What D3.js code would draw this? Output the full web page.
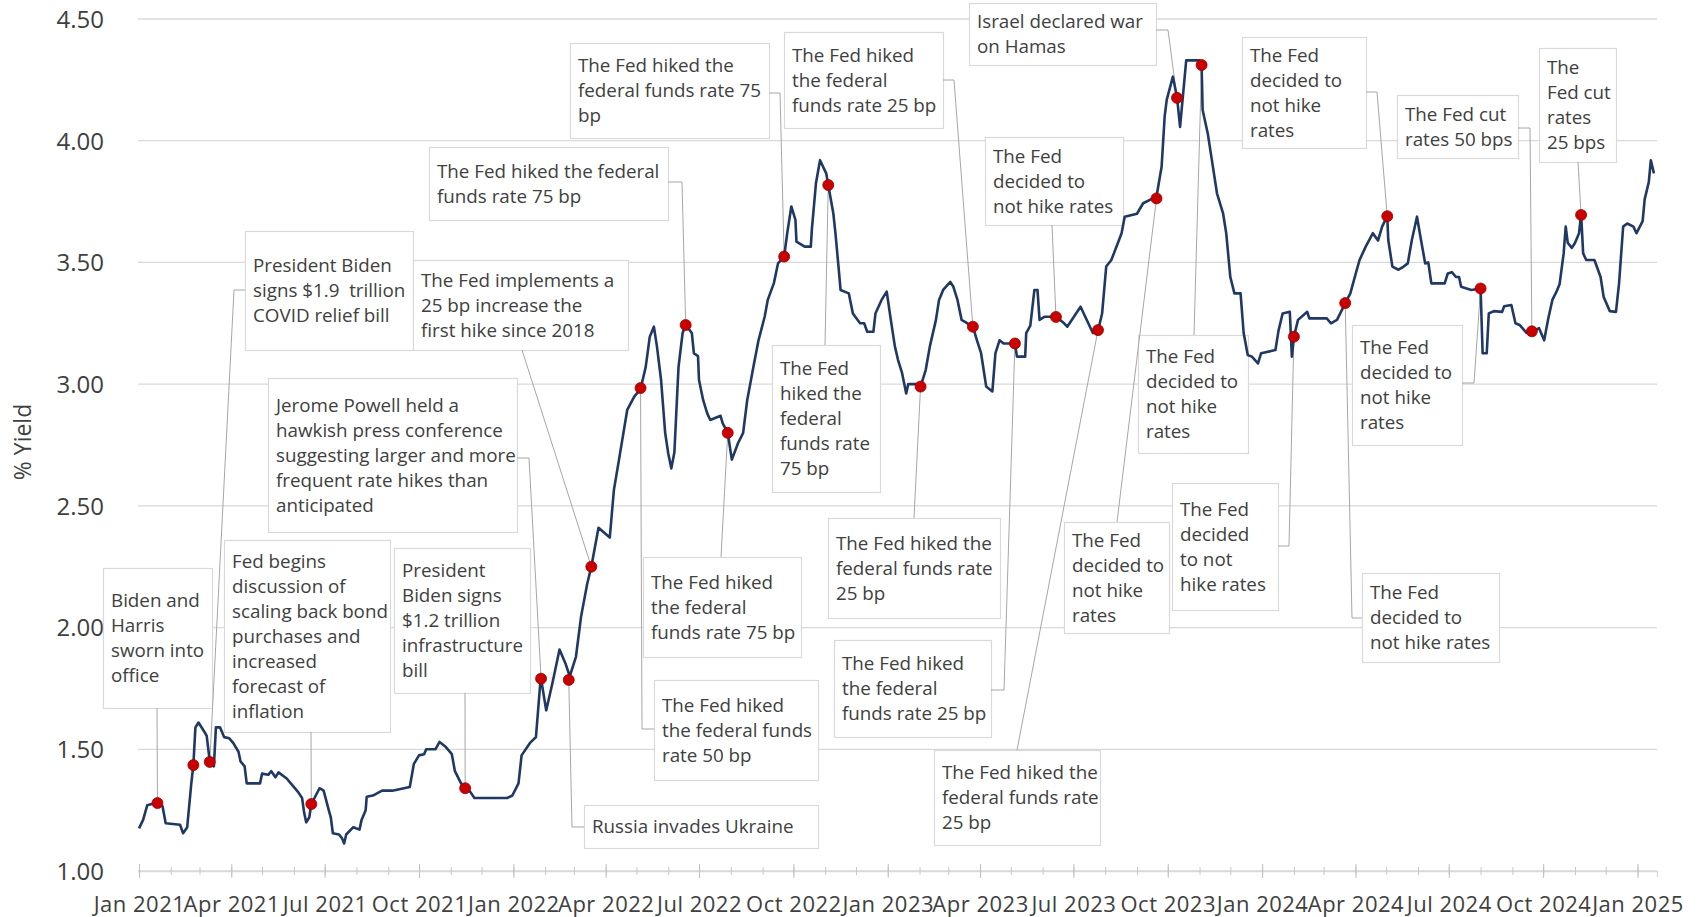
<!DOCTYPE html>
<html>
<head>
<meta charset="utf-8">
<script src="https://cdn.jsdelivr.net/npm/d3@7"></script>
<style>
  html, body { margin: 0; padding: 0; background: #ffffff; }
  svg { display: block; font-family: "Open Sans", "Noto Sans", sans-serif; }
</style>
</head>
<body>
<svg id="chart" width="1704" height="917"></svg>
<script>
// ---------------------------------------------------------------
// Yield series (% yield), Jan 2021 - Jan 2025
// ---------------------------------------------------------------
const seriesDates = [
  "2021-01-01","2021-01-05","2021-01-09","2021-01-18","2021-01-24","2021-01-27","2021-02-10","2021-02-13",
  "2021-02-17","2021-02-21","2021-02-23","2021-02-25","2021-02-28","2021-03-06","2021-03-08","2021-03-11",
  "2021-03-15","2021-03-17","2021-03-21","2021-03-25","2021-03-30","2021-04-03","2021-04-08","2021-04-10",
  "2021-04-14","2021-04-16","2021-04-29","2021-05-01","2021-05-07","2021-05-10","2021-05-14","2021-05-17",
  "2021-05-25","2021-05-29","2021-06-05","2021-06-09","2021-06-11","2021-06-13","2021-06-16","2021-06-18",
  "2021-06-26","2021-06-30","2021-07-05","2021-07-07","2021-07-09","2021-07-15","2021-07-18","2021-07-20",
  "2021-07-22","2021-07-29","2021-08-04","2021-08-06","2021-08-10","2021-08-11","2021-08-17","2021-08-26",
  "2021-09-05","2021-09-22","2021-09-26","2021-10-01","2021-10-06","2021-10-08","2021-10-17","2021-10-21",
  "2021-10-27","2021-11-02","2021-11-05","2021-11-11","2021-11-15","2021-11-20","2021-11-24","2021-12-26",
  "2021-12-31","2022-01-06","2022-01-09","2022-01-17","2022-01-23","2022-01-27","2022-01-28","2022-02-02",
  "2022-02-08","2022-02-15","2022-02-21","2022-02-25","2022-03-03","2022-03-08","2022-03-14","2022-03-18",
  "2022-03-25","2022-04-05","2022-04-09","2022-04-14","2022-04-22","2022-04-29","2022-05-05","2022-05-10",
  "2022-05-14","2022-05-18","2022-05-21","2022-05-25","2022-05-29","2022-06-01","2022-06-04","2022-06-07",
  "2022-06-11","2022-06-15","2022-06-18","2022-06-24","2022-06-26","2022-06-30","2022-07-01","2022-07-05",
  "2022-07-09","2022-07-12","2022-07-22","2022-07-24","2022-07-29","2022-08-02","2022-08-08","2022-08-13",
  "2022-08-17","2022-08-23","2022-08-28","2022-09-03","2022-09-06","2022-09-12","2022-09-16","2022-09-22",
  "2022-09-25","2022-09-29","2022-10-03","2022-10-04","2022-10-12","2022-10-18","2022-10-19","2022-10-23",
  "2022-10-27","2022-11-02","2022-11-04","2022-11-09","2022-11-11","2022-11-14","2022-11-16","2022-11-24",
  "2022-11-28","2022-12-05","2022-12-09","2022-12-12","2022-12-18","2022-12-20","2022-12-26","2022-12-31",
  "2023-01-04","2023-01-08","2023-01-11","2023-01-15","2023-01-19","2023-01-21","2023-01-30","2023-02-02",
  "2023-02-07","2023-02-11","2023-02-17","2023-02-20","2023-02-24","2023-03-03","2023-03-06","2023-03-10",
  "2023-03-14","2023-03-25","2023-03-29","2023-04-02","2023-04-05","2023-04-07","2023-04-13","2023-04-16",
  "2023-04-20","2023-04-24","2023-05-05","2023-05-07","2023-05-15","2023-05-16","2023-05-20","2023-05-24",
  "2023-05-27","2023-05-29","2023-06-03","2023-06-14","2023-06-22","2023-06-25","2023-07-08","2023-07-20",
  "2023-07-25","2023-07-29","2023-08-02","2023-08-07","2023-08-17","2023-08-20","2023-09-01","2023-09-07",
  "2023-09-20","2023-09-25","2023-09-28","2023-09-30","2023-10-06","2023-10-10","2023-10-13","2023-10-19",
  "2023-11-01","2023-11-03","2023-11-04","2023-11-09","2023-11-12","2023-11-18","2023-11-24","2023-11-27",
  "2023-12-01","2023-12-05","2023-12-11","2023-12-14","2023-12-18","2023-12-22","2023-12-28","2023-12-31",
  "2024-01-14","2024-01-17","2024-01-21","2024-01-28","2024-01-30","2024-02-01","2024-02-05","2024-02-14",
  "2024-02-16","2024-03-04","2024-03-08","2024-03-14","2024-03-22","2024-03-27","2024-04-01","2024-04-05",
  "2024-04-11","2024-04-18","2024-04-23","2024-04-27","2024-05-02","2024-05-03","2024-05-07","2024-05-13",
  "2024-05-18","2024-05-22","2024-05-26","2024-05-31","2024-06-04","2024-06-08","2024-06-11","2024-06-14",
  "2024-06-27","2024-06-30","2024-07-04","2024-07-08","2024-07-11","2024-07-13","2024-07-23","2024-08-01",
  "2024-08-03","2024-08-07","2024-08-09","2024-08-14","2024-08-22","2024-08-24","2024-08-31","2024-09-04",
  "2024-09-08","2024-09-15","2024-09-20","2024-09-27","2024-10-02","2024-10-06","2024-10-10","2024-10-14",
  "2024-10-17","2024-10-21","2024-10-23","2024-10-25","2024-10-29","2024-11-01","2024-11-05","2024-11-07",
  "2024-11-09","2024-11-12","2024-11-20","2024-11-26","2024-11-29","2024-12-05","2024-12-11","2024-12-14",
  "2024-12-18","2024-12-22","2024-12-28","2024-12-31","2025-01-06","2025-01-08","2025-01-12","2025-01-14",
  "2025-01-17"
];

const seriesYields = [
  1.175,1.21,1.27,1.28,1.265,1.196,1.19,1.155,
  1.18,1.36,1.435,1.59,1.61,1.57,1.555,1.45,
  1.43,1.59,1.59,1.55,1.545,1.525,1.49,1.45,
  1.43,1.36,1.36,1.40,1.395,1.41,1.385,1.405,
  1.38,1.36,1.325,1.30,1.24,1.20,1.22,1.275,
  1.34,1.33,1.25,1.22,1.155,1.15,1.134,1.113,
  1.15,1.18,1.17,1.21,1.25,1.305,1.31,1.33,
  1.33,1.345,1.44,1.475,1.48,1.50,1.50,1.53,
  1.51,1.48,1.41,1.36,1.34,1.325,1.30,1.30,
  1.31,1.36,1.475,1.525,1.55,1.76,1.79,1.66,
  1.77,1.91,1.85,1.80,1.88,2.045,2.18,2.25,
  2.41,2.37,2.565,2.69,2.894,2.95,2.98,3.07,
  3.195,3.236,3.154,3.017,2.80,2.715,2.654,2.72,
  3.07,3.21,3.243,3.21,3.127,3.115,3.017,2.935,
  2.88,2.853,2.87,2.84,2.80,2.69,2.757,2.80,
  2.935,3.07,3.18,3.277,3.346,3.415,3.496,3.524,
  3.62,3.73,3.675,3.585,3.565,3.565,3.635,3.825,
  3.92,3.866,3.818,3.70,3.62,3.483,3.387,3.373,
  3.29,3.25,3.25,3.215,3.215,3.29,3.346,3.38,
  3.264,3.154,3.10,3.045,2.962,3.00,3.00,2.99,
  3.058,3.154,3.264,3.346,3.387,3.42,3.40,3.346,
  3.264,3.236,3.18,3.127,3.045,2.99,2.97,3.127,
  3.18,3.167,3.167,3.113,3.113,3.21,3.24,3.387,
  3.387,3.264,3.277,3.277,3.25,3.236,3.318,3.21,
  3.22,3.29,3.483,3.51,3.62,3.688,3.70,3.743,
  3.77,3.893,4.10,4.168,4.263,4.18,4.057,4.33,
  4.33,4.311,4.126,4.03,3.948,3.784,3.70,3.62,
  3.44,3.373,3.373,3.21,3.12,3.113,3.085,3.127,
  3.14,3.22,3.29,3.297,3.113,3.195,3.264,3.297,
  3.27,3.27,3.25,3.264,3.332,3.373,3.45,3.51,
  3.565,3.62,3.59,3.647,3.69,3.592,3.483,3.47,
  3.483,3.496,3.592,3.688,3.59,3.496,3.50,3.414,
  3.414,3.455,3.46,3.44,3.44,3.40,3.387,3.393,
  3.127,3.127,3.29,3.30,3.297,3.32,3.325,3.25,
  3.243,3.21,3.215,3.23,3.18,3.27,3.346,3.38,
  3.41,3.537,3.647,3.58,3.56,3.58,3.62,3.70,
  3.537,3.51,3.51,3.44,3.358,3.30,3.297,3.414,
  3.647,3.66,3.647,3.62,3.67,3.76,3.83,3.92,
  3.866
];

// ---------------------------------------------------------------
// Marked events: date, yield at the marker, callout text
// ---------------------------------------------------------------
const eventDates = [
  "2021-01-19","2021-02-23","2021-03-11","2021-06-18","2021-11-15","2022-01-28","2022-02-24",
  "2022-03-18","2022-05-05","2022-06-18","2022-07-29","2022-09-22","2022-11-04","2023-02-02",
  "2023-03-25","2023-05-05","2023-06-14","2023-07-25","2023-09-20","2023-10-10","2023-11-03",
  "2024-02-01","2024-03-22","2024-05-02","2024-08-01","2024-09-20","2024-11-07"
];

const eventYields = [
  1.279,1.435,1.448,1.275,1.34,1.79,1.785,
  2.25,2.984,3.243,2.80,3.524,3.818,2.99,
  3.236,3.167,3.276,3.222,3.763,4.176,4.311,
  3.195,3.333,3.69,3.393,3.217,3.695
];

const eventLabels = [
  "Biden and\nHarris\nsworn into\noffice",
  "",
  "President Biden\nsigns $1.9  trillion\nCOVID relief bill",
  "Fed begins\ndiscussion of\nscaling back bond\npurchases and\nincreased\nforecast of\ninflation",
  "President\nBiden signs\n$1.2 trillion\ninfrastructure\nbill",
  "Jerome Powell held a\nhawkish press conference\nsuggesting larger and more\nfrequent rate hikes than\nanticipated",
  "Russia invades Ukraine",
  "The Fed implements a\n25 bp increase the\nfirst hike since 2018",
  "The Fed hiked\nthe federal funds\nrate 50 bp",
  "The Fed hiked the federal\nfunds rate 75 bp",
  "The Fed hiked\nthe federal\nfunds rate 75 bp",
  "The Fed hiked the\nfederal funds rate 75\nbp",
  "The Fed\nhiked the\nfederal\nfunds rate\n75 bp",
  "The Fed hiked the\nfederal funds rate\n25 bp",
  "The Fed hiked\nthe federal\nfunds rate 25 bp",
  "The Fed hiked\nthe federal\nfunds rate 25 bp",
  "The Fed\ndecided to\nnot hike rates",
  "The Fed hiked the\nfederal funds rate\n25 bp",
  "The Fed\ndecided to\nnot hike\nrates",
  "Israel declared war\non Hamas",
  "The Fed\ndecided to\nnot hike\nrates",
  "The Fed\ndecided\nto not\nhike rates",
  "The Fed\ndecided to\nnot hike rates",
  "The Fed\ndecided to\nnot hike\nrates",
  "The Fed\ndecided to\nnot hike\nrates",
  "The Fed cut\nrates 50 bps",
  "The\nFed cut\nrates\n25 bps"
];

// Axis ticks
const yTicks = [1.0, 1.5, 2.0, 2.5, 3.0, 3.5, 4.0, 4.5];
const xTickLabels = [
  "Jan 2021","Apr 2021","Jul 2021","Oct 2021","Jan 2022","Apr 2022","Jul 2022","Oct 2022",
  "Jan 2023","Apr 2023","Jul 2023","Oct 2023","Jan 2024","Apr 2024","Jul 2024","Oct 2024","Jan 2025"
];
const yAxisTitle = "% Yield";

// ---------------------------------------------------------------
// Callout placement (pixels): box [x, y, w, h] and leader route
// side: where the leader leaves the box; at: position along that side;
// elbow: x of the short horizontal run for side leaders
// ---------------------------------------------------------------
const calloutLayout = [
  { box: [103, 568, 109, 140], side: "bottom", at: 157 },
  null,
  { box: [245, 231, 168, 119], side: "left", at: 290, elbow: 234 },
  { box: [224, 540, 166, 192], side: "bottom", at: 311 },
  { box: [394, 548, 136, 145], side: "bottom", at: 465 },
  { box: [268, 378, 249, 154], side: "right", at: 458, elbow: 529 },
  { box: [584, 805, 234, 43], side: "left", at: 827, elbow: 572 },
  { box: [413, 260, 215, 90], side: "bottom", at: 522 },
  { box: [654, 680, 164, 100], side: "left", at: 729, elbow: 642 },
  { box: [429, 147, 239, 73], side: "right", at: 182, elbow: 682 },
  { box: [643, 557, 158, 100], side: "top", at: 721 },
  { box: [570, 43, 199, 95], side: "right", at: 93, elbow: 780 },
  { box: [772, 345, 108, 147], side: "top", at: 825 },
  { box: [828, 518, 172, 100], side: "top", at: 914 },
  { box: [784, 32, 159, 96], side: "right", at: 80, elbow: 954 },
  { box: [834, 640, 157, 97], side: "right", at: 690, elbow: 1004 },
  { box: [985, 137, 138, 88], side: "bottom", at: 1052 },
  { box: [934, 750, 166, 95], side: "top", at: 1017 },
  { box: [1064, 522, 105, 111], side: "top", at: 1117 },
  { box: [969, 3, 187, 62], side: "right", at: 30, elbow: 1168 },
  { box: [1138, 335, 110, 118], side: "top", at: 1194 },
  { box: [1172, 483, 106, 127], side: "right", at: 546, elbow: 1289 },
  { box: [1362, 573, 137, 89], side: "left", at: 618, elbow: 1352 },
  { box: [1242, 37, 124, 111], side: "right", at: 92, elbow: 1377 },
  { box: [1352, 325, 110, 120], side: "right", at: 383, elbow: 1474 },
  { box: [1397, 95, 121, 63], side: "right", at: 128, elbow: 1530 },
  { box: [1539, 48, 77, 114], side: "bottom", at: 1578 }
];

// ---------------------------------------------------------------
// Scales
// ---------------------------------------------------------------
const parseDay = d3.timeParse("%Y-%m-%d");
const parseMonth = d3.timeParse("%b %Y");

const x = d3.scaleTime()
  .domain([parseDay("2021-01-01"), parseDay("2025-01-20")])
  .range([139, 1657]);

const y = d3.scaleLinear()
  .domain([1.0, 4.5])
  .range([871, 19]);

const series = seriesDates.map((d, i) => ({ date: parseDay(d), value: seriesYields[i] }));
const events = eventDates.map((d, i) => ({
  date: parseDay(d), value: eventYields[i], label: eventLabels[i], layout: calloutLayout[i]
}));

const svg = d3.select("#chart");
const TEXT = "#404040";

// ---------------------------------------------------------------
// Gridlines and value labels
// ---------------------------------------------------------------
const [plotLeft, plotRight] = x.range();

svg.append("g")
  .attr("class", "grid")
  .selectAll("line")
  .data(yTicks)
  .join("line")
  .attr("x1", plotLeft - 1)
  .attr("x2", plotRight)
  .attr("y1", d => y(d))
  .attr("y2", d => y(d))
  .attr("stroke", "#d9d9d9")
  .attr("stroke-width", 1.3);

const yAxis = svg.append("g")
  .attr("transform", `translate(${plotLeft - 35},0)`)
  .call(d3.axisLeft(y).tickValues(yTicks).tickFormat(d3.format(".2f")).tickSize(0).tickPadding(0));
yAxis.select(".domain").remove();
yAxis.selectAll("text")
  .attr("fill", TEXT)
  .attr("font-size", 24)
  .attr("font-family", "'Open Sans', sans-serif")
  .attr("dy", "0.35em");

svg.append("text")
  .attr("transform", "translate(31,442) rotate(-90)")
  .attr("text-anchor", "middle")
  .attr("fill", TEXT)
  .attr("font-size", 23)
  .text(yAxisTitle);

// ---------------------------------------------------------------
// Time axis: monthly minor ticks, quarterly labelled ticks
// ---------------------------------------------------------------
const axisY = y(1.0);
const monthTicks = d3.timeMonth.range(x.domain()[0], d3.timeDay.offset(x.domain()[1], 1));
const quarterTicks = xTickLabels.map(parseMonth);

const minorAxis = svg.append("g")
  .attr("transform", `translate(0,${axisY})`)
  .call(d3.axisBottom(x).tickValues(monthTicks).tickFormat(""));
minorAxis.select(".domain").attr("stroke", "#d9d9d9").attr("stroke-width", 1.3);
minorAxis.selectAll(".tick line").attr("y1", -4).attr("y2", 4).attr("stroke", "#c8c8c8");

const majorAxis = svg.append("g")
  .attr("transform", `translate(0,${axisY})`)
  .call(d3.axisBottom(x).tickValues(quarterTicks).tickFormat((d, i) => xTickLabels[i]));
majorAxis.select(".domain").remove();
majorAxis.selectAll(".tick line").attr("y1", -7).attr("y2", 7).attr("stroke", "#bfbfbf");
majorAxis.selectAll(".tick text")
  .attr("y", 41)
  .attr("dy", null)
  .attr("fill", TEXT)
  .attr("font-size", 22)
  .attr("letter-spacing", 0.5)
  .attr("font-family", "'Open Sans', sans-serif");

// ---------------------------------------------------------------
// Callout boxes and leaders
// ---------------------------------------------------------------
const callouts = events.filter(e => e.layout);
const LINE_H = 25, FONT = 18.8, PAD = 8;

const defs = svg.append("defs");
callouts.forEach((e, i) => {
  const [bx, by, bw, bh] = e.layout.box;
  defs.append("clipPath").attr("id", `clip-${i}`)
    .append("rect").attr("x", bx).attr("y", by).attr("width", bw + 2).attr("height", bh);
});

const boxG = svg.append("g").attr("class", "callouts");
callouts.forEach((e, i) => {
  const [bx, by, bw, bh] = e.layout.box;
  const g = boxG.append("g");
  g.append("rect")
    .attr("x", bx + 0.5).attr("y", by + 0.5)
    .attr("width", bw).attr("height", bh)
    .attr("fill", "#ffffff")
    .attr("stroke", "#d9d9d9")
    .attr("stroke-width", 1.2);
  const lines = e.label.split("\n");
  const cy = by + bh / 2;
  const t = g.append("text")
    .attr("clip-path", `url(#clip-${i})`)
    .attr("fill", TEXT)
    .attr("font-size", FONT)
    .style("white-space", "pre");
  lines.forEach((ln, k) => {
    t.append("tspan")
      .attr("x", bx + PAD)
      .attr("y", cy + (k - (lines.length - 1) / 2) * LINE_H + FONT * 0.35)
      .text(ln);
  });
});

const leaderG = svg.append("g").attr("class", "leaders")
  .attr("fill", "none").attr("stroke", "#a6a6a6").attr("stroke-width", 1);
callouts.forEach(e => {
  const L = e.layout;
  const [bx, by, bw, bh] = L.box;
  const px = x(e.date), py = y(e.value);
  let pts;
  if (L.side === "bottom") pts = [[L.at, by + bh], [px, py]];
  else if (L.side === "top") pts = [[L.at, by], [px, py]];
  else if (L.side === "left") pts = [[bx, L.at], [L.elbow, L.at], [px, py]];
  else pts = [[bx + bw, L.at], [L.elbow, L.at], [px, py]];
  leaderG.append("path").attr("d", d3.line()(pts));
});

// ---------------------------------------------------------------
// Yield line and event markers
// ---------------------------------------------------------------
const line = d3.line()
  .x(d => x(d.date))
  .y(d => y(d.value));

svg.append("path")
  .datum(series)
  .attr("d", line)
  .attr("fill", "none")
  .attr("stroke", "#1f3864")
  .attr("stroke-width", 2.6)
  .attr("stroke-linejoin", "round");

svg.append("g")
  .selectAll("circle")
  .data(events)
  .join("circle")
  .attr("cx", d => x(d.date))
  .attr("cy", d => y(d.value))
  .attr("r", 5.5)
  .attr("fill", "#c80000")
  .attr("stroke", "#9c0000")
  .attr("stroke-width", 0.8);
</script>
</body>
</html>
